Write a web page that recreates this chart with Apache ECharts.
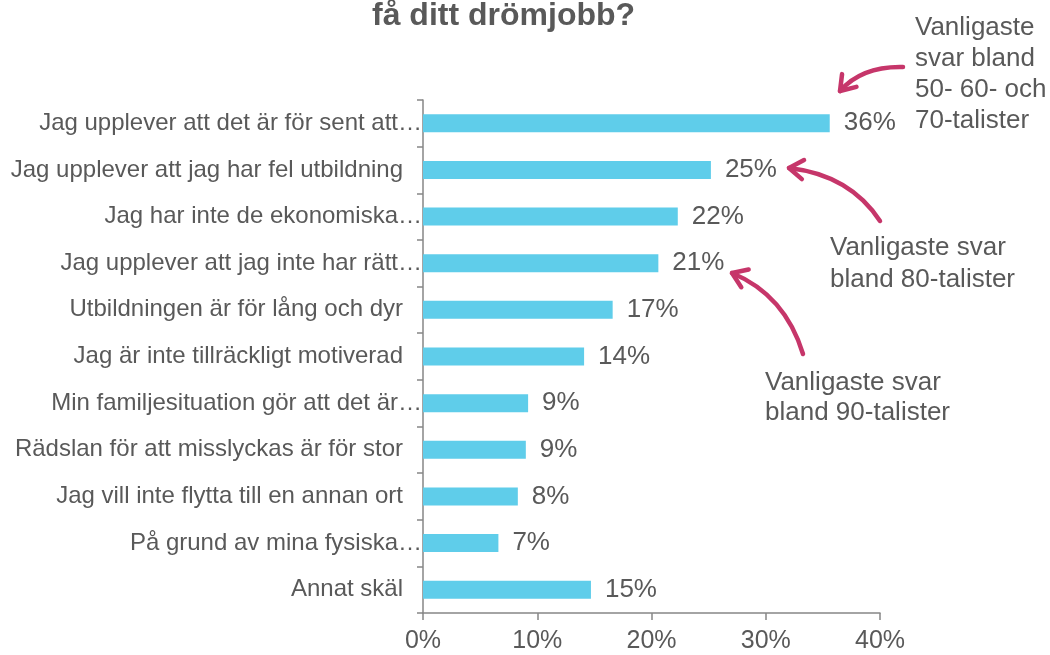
<!DOCTYPE html>
<html>
<head>
<meta charset="utf-8">
<script src="https://cdn.jsdelivr.net/npm/echarts@6/dist/echarts.min.js"></script>
<style>
  html, body { margin: 0; padding: 0; background: #fff; }
  #chart { width: 1050px; height: 655px; }
</style>
</head>
<body>
<div id="chart"></div>
<script>
// data, top to bottom as in the picture
var categories = [
  'Jag upplever att det är för sent att…',
  'Jag upplever att jag har fel utbildning',
  'Jag har inte de ekonomiska…',
  'Jag upplever att jag inte har rätt…',
  'Utbildningen är för lång och dyr',
  'Jag är inte tillräckligt motiverad',
  'Min familjesituation gör att det är…',
  'Rädslan för att misslyckas är för stor',
  'Jag vill inte flytta till en annan ort',
  'På grund av mina fysiska…',
  'Annat skäl'
]
var values = [35.6, 25.2, 22.3, 20.6, 16.6, 14.1, 9.2, 9.0, 8.3, 6.6, 14.7]
var xTicks = [0, 10, 20, 30, 40]

var grey = '#595959'
var pink = '#C6366A'
var font = 'Liberation Sans, Arial, sans-serif'

// curved arrow: quadratic curve from (x1,y1) to tip (x2,y2)
function arrow(x1, y1, cx, cy, x2, y2) {
  var ang = Math.atan2(y2 - cy, x2 - cx)
  var len = 17, spread = 0.6
  var w1 = [x2 - len * Math.cos(ang - spread), y2 - len * Math.sin(ang - spread)]
  var w2 = [x2 - len * Math.cos(ang + spread), y2 - len * Math.sin(ang + spread)]
  return [
    {type: 'bezierCurve', shape: {x1: x1, y1: y1, cpx1: cx, cpy1: cy, x2: x2, y2: y2},
      style: {stroke: pink, lineWidth: 4.5, fill: null, lineCap: 'round'}},
    {type: 'polyline', shape: {points: [w1, [x2, y2], w2]},
      style: {stroke: pink, lineWidth: 4.5, fill: null, lineCap: 'round', lineJoin: 'round'}}
  ]
}

function note(x, y, txt, lh) {
  return {type: 'text', left: x, top: y,
    style: {text: txt, font: '26px ' + font, fill: grey, lineHeight: lh}}
}

var chart = echarts.init(document.getElementById('chart'))

var graphics = [
  {type: 'text', left: 372, top: 0,
    style: {text: 'få ditt drömjobb?', font: 'bold 32px ' + font, fill: grey}},
  note(915, 12, 'Vanligaste\nsvar bland\n50- 60- och\n70-talister', 31),
  note(830, 232, 'Vanligaste svar\nbland 80-talister', 32),
  note(765, 368, 'Vanligaste svar\nbland 90-talister', 30)
]
graphics = graphics.concat(arrow(903, 67, 862, 66, 840, 91))
graphics = graphics.concat(arrow(880, 221, 850, 175, 789, 168))
graphics = graphics.concat(arrow(803, 354, 785, 295, 732, 273))

chart.setOption({
  backgroundColor: '#fff',
  animation: false,
  grid: {left: 423, right: 170, top: 100, bottom: 42},
  xAxis: {
    type: 'value', min: 0, max: 40, interval: 10,
    axisLine: {show: true, lineStyle: {color: '#868686', width: 1.5}},
    axisTick: {show: true, length: 7, lineStyle: {color: '#868686', width: 1.5}},
    splitLine: {show: false},
    axisLabel: {color: grey, fontSize: 25, fontFamily: font, margin: 16,
      formatter: function (v) { return v + '%' }}
  },
  yAxis: {
    type: 'category', data: categories, inverse: true,
    axisLine: {show: true, lineStyle: {color: '#868686', width: 1.5}},
    axisTick: {show: true, length: 6, lineStyle: {color: '#868686', width: 1.5}},
    axisLabel: {color: grey, fontSize: 24, fontFamily: font, margin: 1,
      // cut-off labels run up to the axis, whole ones stop short of it
      formatter: function (v) {
        return v.slice(-1) === '…' ? '{c|' + v + '}' : '{w|' + v + '}'
      },
      rich: {
        c: {fontSize: 24, fontFamily: font, color: grey},
        w: {fontSize: 24, fontFamily: font, color: grey, padding: [0, 19, 0, 0]}
      }}
  },
  series: [{
    type: 'bar', data: values, barWidth: 18,
    itemStyle: {color: '#5FCDEA'},
    label: {show: true, position: 'right', distance: 14, color: grey,
      fontSize: 26, fontFamily: font,
      formatter: function (p) { return Math.round(p.value) + '%' }}
  }],
  graphic: graphics
})
</script>
</body>
</html>
